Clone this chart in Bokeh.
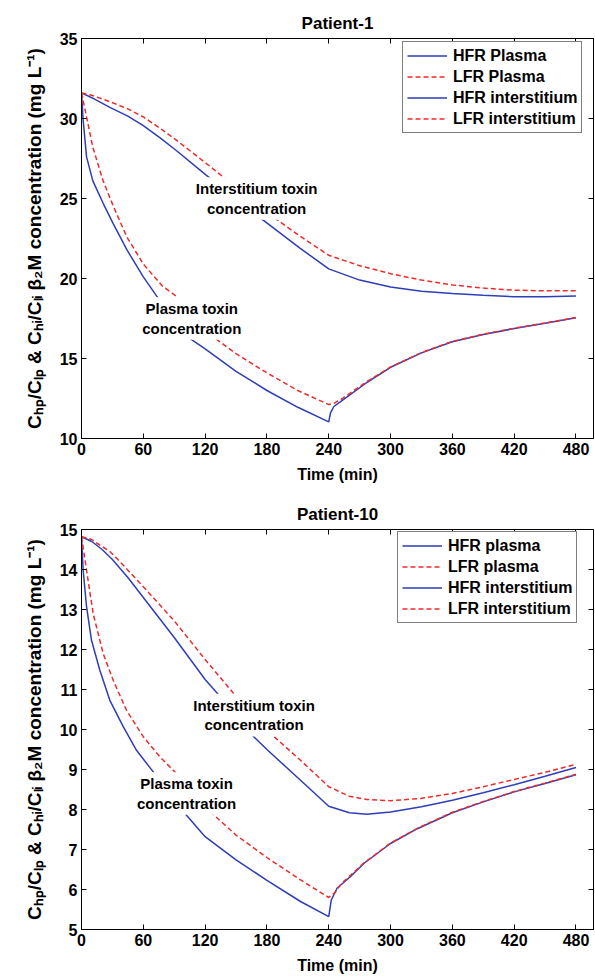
from bokeh.plotting import figure
from bokeh.models import LinearAxis, FixedTicker, Label, Legend, LegendItem, Range1d
from bokeh.layouts import column
from bokeh.embed import file_html
from bokeh.resources import INLINE

# ---------------- Patient-1 data ----------------
p1_t_hfr_plasma = [0, 1.6, 4.9, 11, 21, 31, 44, 60, 73, 90, 104, 120, 150, 180, 210,
                   240, 241.7, 245, 251.5, 277, 300, 330, 360, 390, 420, 450, 480]
p1_hfr_plasma = [31.6, 29.9, 27.6, 26.1, 24.7, 23.4, 21.8, 20.1, 18.9, 17.4, 16.3, 15.6, 14.2, 13.0, 11.95,
                 11.04, 11.6, 12.0, 12.3, 13.5, 14.45, 15.35, 16.05, 16.5, 16.87, 17.2, 17.54]

p1_t_lfr_plasma = [0, 4.9, 11, 21, 31, 44, 60, 79, 92, 110, 128, 150, 180, 210,
                   240, 245, 252, 277, 300, 330, 360, 390, 420, 450, 480]
p1_lfr_plasma = [31.6, 30.1, 28.2, 26.1, 24.5, 22.6, 20.9, 19.5, 18.9, 17.55, 16.35, 15.3, 14.1, 13.0,
                 12.12, 12.2, 12.45, 13.55, 14.47, 15.37, 16.07, 16.52, 16.89, 17.22, 17.56]

p1_t_hfr_inter = [0, 10, 27.5, 45, 60, 76, 92, 121, 150, 170, 212, 240, 270, 300, 330, 360, 390, 420, 450, 480]
p1_hfr_inter = [31.6, 31.3, 30.7, 30.15, 29.55, 28.8, 28.0, 26.46, 25.0, 23.96, 21.9, 20.6, 19.9, 19.47,
                19.2, 19.06, 18.95, 18.86, 18.86, 18.9]

p1_t_lfr_inter = [0, 10, 27.5, 45, 60, 76, 92, 121, 150, 186, 212, 240, 270, 300, 330, 360, 390, 420, 450, 480]
p1_lfr_inter = [31.6, 31.45, 31.05, 30.6, 30.1, 29.4, 28.65, 27.2, 25.7, 23.85, 22.65, 21.45, 20.8, 20.3,
                19.9, 19.6, 19.4, 19.27, 19.23, 19.23]

# ---------------- Patient-10 data ----------------
p10_t_hfr_plasma = [0, 1.6, 4.9, 9.7, 17.8, 27.5, 40.5, 53.4, 69.6, 97.7, 120, 150, 180, 212.6,
                    240, 242.4, 248, 261, 274, 300, 326, 360, 390, 420, 450, 480]
p10_hfr_plasma = [14.82, 13.98, 13.07, 12.23, 11.48, 10.73, 10.07, 9.48, 8.94, 7.98, 7.32, 6.74, 6.23, 5.7,
                  5.32, 5.73, 6.03, 6.32, 6.65, 7.15, 7.52, 7.92, 8.19, 8.44, 8.65, 8.87]

p10_t_lfr_plasma = [0, 4.9, 11.3, 21, 30.8, 43.7, 59.9, 76, 90.6, 126.9, 150, 180, 212.6,
                    240, 246, 252, 274, 300, 326, 360, 390, 420, 450, 480]
p10_lfr_plasma = [14.82, 13.98, 12.9, 11.9, 11.23, 10.48, 9.82, 9.32, 8.94, 7.9, 7.36, 6.8, 6.24,
                  5.8, 5.92, 6.14, 6.66, 7.16, 7.53, 7.93, 8.2, 8.45, 8.66, 8.88]

p10_t_hfr_inter = [0, 10, 20, 30, 45, 60, 90, 120, 132, 164, 180, 212.6, 240, 260, 277, 300, 330,
                   360, 390, 420, 450, 480]
p10_hfr_inter = [14.82, 14.7, 14.5, 14.25, 13.8, 13.3, 12.3, 11.25, 10.9, 9.9, 9.5, 8.73, 8.08, 7.92,
                 7.88, 7.94, 8.07, 8.23, 8.42, 8.62, 8.83, 9.05]

p10_t_lfr_inter = [0, 10, 18.4, 27.5, 34.6, 60, 89.6, 120, 147.7, 183.5, 212.6, 240, 260, 277, 300,
                   330, 360, 390, 420, 450, 480]
p10_lfr_inter = [14.82, 14.75, 14.6, 14.45, 14.27, 13.57, 12.73, 11.75, 10.9, 9.9, 9.23, 8.57, 8.33,
                 8.25, 8.22, 8.28, 8.4, 8.57, 8.75, 8.93, 9.13]

x_ticks = [0, 60, 120, 180, 240, 300, 360, 420, 480]
p1_y_ticks = [10, 15, 20, 25, 30, 35]
p10_y_ticks = [5, 6, 7, 8, 9, 10, 11, 12, 13, 14, 15]

p1_legend_labels = ["HFR Plasma", "LFR Plasma", "HFR interstitium", "LFR interstitium"]
p10_legend_labels = ["HFR plasma", "LFR plasma", "HFR interstitium", "LFR interstitium"]

FONT = "Liberation Sans"
BLUE = "#2e3db8"
RED = "#ee2b2b"
YLABEL = "C\u2095\u209a/C\u2097\u209a & C\u2095\u1d62/C\u2097\u1d62 \u03b2\u2082M concentration (mg L\u207b\u00b9)"


def style_axis(ax, labels=True):
    ax.axis_line_color = "black"
    ax.major_tick_line_color = "black"
    ax.major_tick_in = 5
    ax.major_tick_out = 0
    ax.minor_tick_line_color = None
    if labels:
        ax.major_label_text_font = FONT
        ax.major_label_text_font_style = "bold"
        ax.major_label_text_font_size = "16px"
        ax.major_label_text_color = "black"
        ax.major_label_standoff = 4
        ax.axis_label_text_font = FONT
        ax.axis_label_text_font_style = "bold"
        ax.axis_label_text_font_size = "16px"
        ax.axis_label_text_color = "black"
    else:
        ax.major_label_text_color = None
        ax.major_label_text_font_size = "1px"
        ax.major_label_standoff = 0


def make_panel(title, yr, yticks, series, leg_labels, texts, borders, leg_loc):
    top, bottom = borders
    p = figure(width=595, height=top + 400 + bottom,
               x_range=Range1d(0, 497), y_range=Range1d(*yr),
               output_backend="svg", toolbar_location=None,
               min_border_left=81, min_border_right=2,
               min_border_top=top, min_border_bottom=bottom,
               title=title)
    p.title.text_font = FONT
    p.title.text_font_style = "bold"
    p.title.text_font_size = "17px"
    p.title.align = "center"
    p.title.text_color = "black"
    p.title.standoff = 12
    p.xgrid.grid_line_color = None
    p.ygrid.grid_line_color = None
    p.outline_line_color = "black"
    p.background_fill_color = "white"
    p.border_fill_color = "white"

    p.xaxis.ticker = FixedTicker(ticks=x_ticks)
    p.yaxis.ticker = FixedTicker(ticks=yticks)
    p.xaxis.axis_label = "Time (min)"
    p.yaxis.axis_label = YLABEL
    style_axis(p.xaxis[0])
    style_axis(p.yaxis[0])
    p.yaxis.axis_label_text_font_size = "19px"
    p.xaxis.axis_label_standoff = 8
    p.yaxis.axis_label_standoff = 12

    top_ax = LinearAxis(ticker=FixedTicker(ticks=x_ticks))
    right_ax = LinearAxis(ticker=FixedTicker(ticks=yticks))
    style_axis(top_ax, labels=False)
    style_axis(right_ax, labels=False)
    p.add_layout(top_ax, "above")
    p.add_layout(right_ax, "right")

    renderers = []
    for (t, v, color, dash) in series:
        r = p.line(t, v, line_color=color, line_width=1.5, line_dash=dash)
        renderers.append(r)

    for (tx, ty, txt) in texts:
        lab = Label(x=tx, y=ty, text=txt, text_align="center", text_baseline="middle",
                    text_font=FONT, text_font_style="bold", text_font_size="15px",
                    text_color="black", text_line_height=1.15,
                    background_fill_color="white", padding=3)
        p.add_layout(lab)

    items = [LegendItem(label=lbl, renderers=[r]) for lbl, r in zip(leg_labels, renderers)]
    leg = Legend(items=items, location=leg_loc,
                 border_line_color="black", border_line_width=1,
                 background_fill_color="white", background_fill_alpha=1.0,
                 label_text_font=FONT, label_text_font_style="bold",
                 label_text_font_size="16px", label_text_color="black",
                 glyph_width=40, glyph_height=19, label_height=19,
                 label_standoff=6, spacing=2, padding=4, margin=0)
    p.add_layout(leg, "center")
    return p


p1 = make_panel(
    "Patient-1", (10, 35), p1_y_ticks,
    [(p1_t_hfr_plasma, p1_hfr_plasma, BLUE, "solid"),
     (p1_t_lfr_plasma, p1_lfr_plasma, RED, "5 3"),
     (p1_t_hfr_inter, p1_hfr_inter, BLUE, "solid"),
     (p1_t_lfr_inter, p1_lfr_inter, RED, "5 3")],
    p1_legend_labels,
    [(170, 25.0, "Interstitium toxin\nconcentration"),
     (107, 17.5, "Plasma toxin\nconcentration")],
    (38, 56), (321, 305))

p10 = make_panel(
    "Patient-10", (5, 15), p10_y_ticks,
    [(p10_t_hfr_plasma, p10_hfr_plasma, BLUE, "solid"),
     (p10_t_lfr_plasma, p10_lfr_plasma, RED, "5 3"),
     (p10_t_hfr_inter, p10_hfr_inter, BLUE, "solid"),
     (p10_t_lfr_inter, p10_lfr_inter, RED, "5 3")],
    p10_legend_labels,
    [(167.5, 10.36, "Interstitium toxin\nconcentration"),
     (102, 8.4, "Plasma toxin\nconcentration")],
    (35, 50), (316, 306))

layout = column(p1, p10, spacing=0)

with open("out.html", "w") as f:
    f.write(file_html(layout, INLINE))
